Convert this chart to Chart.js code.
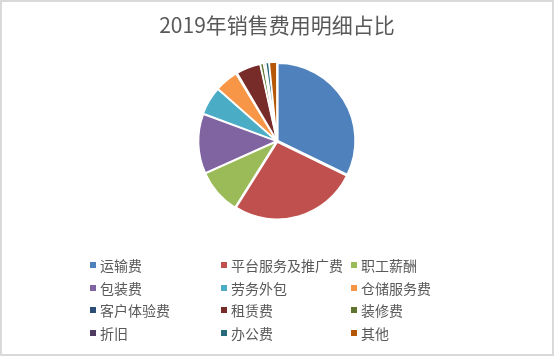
<!DOCTYPE html>
<html>
<head>
<meta charset="utf-8">
<script src="https://cdn.jsdelivr.net/npm/chart.js@4/dist/chart.umd.min.js"></script>
<style>
  html, body { margin: 0; padding: 0; background: #fff; }
  #wrap { position: relative; width: 554px; height: 356px; box-sizing: border-box; border: 2px solid #d9d9d9; overflow: hidden; }
  #c { position: absolute; left: -2px; top: -2px; }
  .lg { position: absolute; font-family: "Noto Sans CJK SC", sans-serif; font-size: 14px; color: #595959; line-height: 16px; white-space: nowrap; }
  .lg span.m { position: absolute; left: -10px; top: 5px; width: 6px; height: 6px; }
</style>
</head>
<body>
<div id="wrap"><canvas id="c" width="554" height="356"></canvas></div>
<script>
const categories = ["运输费", "平台服务及推广费", "职工薪酬", "包装费", "劳务外包", "仓储服务费", "客户体验费", "租赁费", "装修费", "折旧", "办公费", "其他"];
const shares = [32.0, 26.5, 9.3, 12.3, 5.8, 4.8, 0.2, 5.0, 0.7, 0.4, 0.7, 1.6];
const colors = ["#4F81BD", "#C0504D", "#9BBB59", "#8064A2", "#4BACC6", "#F79646", "#2C4D75", "#772C2A", "#5F7530", "#4D3B62", "#276A7C", "#B65708"];
const title = "2019年销售费用明细占比";

new Chart(document.getElementById('c'), {
  type: 'pie',
  data: {
    labels: categories,
    datasets: [{
      data: shares,
      backgroundColor: colors,
      borderColor: '#ffffff',
      borderWidth: 1.5,
      offset: 4
    }]
  },
  options: {
    responsive: false,
    animation: false,
    layout: { padding: { top: 0, bottom: 135, left: 0, right: 0 } },
    plugins: {
      legend: { display: false },
      tooltip: { enabled: false },
      title: {
        display: true,
        text: title,
        color: '#595959',
        font: { family: '"Noto Sans CJK SC", sans-serif', size: 21, weight: 'normal', lineHeight: 1.2 },
        padding: { top: 12, bottom: 24 }
      }
    }
  }
});

// legend in a 3-column grid, built from the category/color arrays
const colX = [100, 231, 361];
const rowY = [257, 280, 302, 325];
const wrap = document.getElementById('wrap');
categories.forEach((name, i) => {
  const d = document.createElement('div');
  d.className = 'lg';
  d.style.left = (colX[i % 3] - 2) + 'px';
  d.style.top = (rowY[Math.floor(i / 3)] - 2) + 'px';
  const m = document.createElement('span');
  m.className = 'm';
  m.style.background = colors[i];
  d.appendChild(m);
  d.appendChild(document.createTextNode(name));
  wrap.appendChild(d);
});
</script>
</body>
</html>
